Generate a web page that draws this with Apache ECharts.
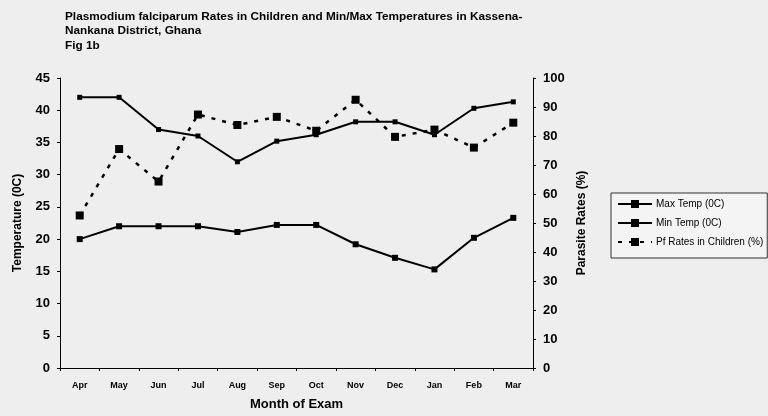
<!DOCTYPE html>
<html><head><meta charset="utf-8">
<script src="https://cdn.jsdelivr.net/npm/echarts@6/dist/echarts.min.js"></script>
<style>html,body{margin:0;padding:0;background:#eeeeee}#c{width:768px;height:416px}</style>
</head><body><div id="c"></div>
<script>
const months = ['Apr','May','Jun','Jul','Aug','Sep','Oct','Nov','Dec','Jan','Feb','Mar'];
const maxTemp = [42, 42, 37, 36, 32, 35.2, 36.2, 38.2, 38.2, 36.2, 40.3, 41.3];
const minTemp = [20, 22, 22, 22, 21.1, 22.2, 22.2, 19.2, 17.1, 15.3, 20.2, 23.3];
const pfRates = [52.6, 75.5, 64.3, 87.4, 83.8, 86.6, 81.8, 92.5, 79.7, 82.2, 76, 84.6];

const font = 'Liberation Sans, Arial, sans-serif';
const chart = echarts.init(document.getElementById('c'));
chart.setOption({
  backgroundColor: '#eeeeee',
  animation: false,
  textStyle: {fontFamily: font, color: '#000'},
  title: {
    text: 'Plasmodium falciparum Rates in Children and Min/Max Temperatures in Kassena-\nNankana District, Ghana\nFig 1b',
    left: 65, top: 9, padding: 0,
    textStyle: {fontFamily: font, fontSize: 11.8, fontWeight: 'bold', color: '#000', lineHeight: 14.5}
  },
  legend: {
    orient: 'vertical', left: 611, top: 193,
    backgroundColor: '#f4f4f4',
    borderColor: '#333', borderWidth: 1,
    padding: [6, 4, 11, 6],
    itemGap: 9, itemWidth: 34, itemHeight: 10,
    textStyle: {fontFamily: font, fontSize: 10, color: '#000', padding: [0, 0, 0, -1]},
    data: ['Max Temp (0C)', 'Min Temp (0C)', 'Pf Rates in Children (%)']
  },
  grid: {left: 60, right: 235, top: 78, bottom: 40},
  xAxis: {
    type: 'category', data: months, boundaryGap: true,
    name: 'Month of Exam', nameLocation: 'middle', nameGap: 30,
    nameTextStyle: {fontFamily: font, fontSize: 13, fontWeight: 'bold', color: '#000'},
    axisLine: {lineStyle: {color: '#000', width: 1}},
    axisTick: {show: true, interval: 0, length: 3, lineStyle: {color: '#000'}},
    axisLabel: {interval: 0, fontSize: 9, fontWeight: 'bold', color: '#000', margin: 13}
  },
  yAxis: [
    {
      type: 'value', min: 0, max: 45, interval: 5,
      name: 'Temperature (0C)', nameLocation: 'middle', nameGap: 36,
      nameTextStyle: {fontFamily: font, fontSize: 12, fontWeight: 'bold', color: '#000'},
      axisLine: {show: true, lineStyle: {color: '#000', width: 1}},
      axisTick: {show: true, length: 3, lineStyle: {color: '#000'}},
      axisLabel: {fontSize: 13, fontWeight: 'bold', color: '#000', margin: 10},
      splitLine: {show: false}
    },
    {
      type: 'value', min: 0, max: 100, interval: 10, position: 'right',
      name: 'Parasite Rates (%)', nameLocation: 'middle', nameGap: 40,
      nameTextStyle: {fontFamily: font, fontSize: 12, fontWeight: 'bold', color: '#000'},
      axisLine: {show: true, lineStyle: {color: '#000', width: 1}},
      axisTick: {show: true, length: 3, lineStyle: {color: '#000'}},
      axisLabel: {fontSize: 13, fontWeight: 'bold', color: '#000', margin: 10},
      splitLine: {show: false}
    }
  ],
  series: [
    {
      name: 'Max Temp (0C)', type: 'line', yAxisIndex: 0, data: maxTemp,
      symbol: 'rect', symbolSize: 5,
      lineStyle: {color: '#000', width: 2}, itemStyle: {color: '#000'}
    },
    {
      name: 'Min Temp (0C)', type: 'line', yAxisIndex: 0, data: minTemp,
      symbol: 'rect', symbolSize: 6,
      lineStyle: {color: '#000', width: 2}, itemStyle: {color: '#000'}
    },
    {
      name: 'Pf Rates in Children (%)', type: 'line', yAxisIndex: 1, data: pfRates,
      symbol: 'rect', symbolSize: 8,
      lineStyle: {color: '#000', width: 2.5, type: [4, 7]}, itemStyle: {color: '#000'}
    }
  ]
});
</script></body></html>
